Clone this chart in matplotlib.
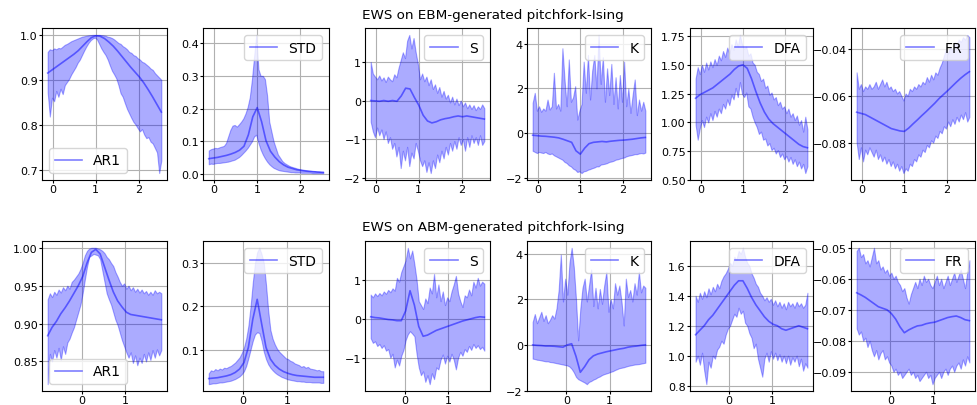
import numpy as np
import matplotlib
matplotlib.use("Agg")
import matplotlib.pyplot as plt
from matplotlib.ticker import MultipleLocator

labels = ["AR1", "STD", "S", "K", "DFA", "FR"]
row_titles = ["EWS on EBM-generated pitchfork-Ising", "EWS on ABM-generated pitchfork-Ising"]

# x grids (parameter axis)
ebm_x_mean = np.linspace(-0.12, 2.53, 27)
ebm_x_band = np.linspace(-0.12, 2.53, 54)
abm_x_mean = np.linspace(-0.78, 1.83, 27)
abm_x_band = np.linspace(-0.78, 1.83, 53)

# ---------------- EBM row ----------------
ebm_ar1_mean = [0.915, 0.922, 0.929, 0.936, 0.943, 0.950, 0.957, 0.965, 0.975, 0.985, 0.994, 0.998, 0.997, 0.992,
                0.984, 0.975, 0.964, 0.952, 0.940, 0.928, 0.917, 0.906, 0.893, 0.878, 0.862, 0.845, 0.828]
ebm_ar1_upper = [0.962, 0.968, 0.966, 0.970, 0.968, 0.971, 0.970, 0.974, 0.978, 0.980,
                 0.983, 0.986, 0.988, 0.990, 0.992, 0.994, 0.996, 0.997, 0.998, 0.999,
                 0.9995, 1.0, 1.0, 1.0, 1.0, 0.9995, 0.999, 0.998, 0.996, 0.995,
                 0.993, 0.990, 0.986, 0.982, 0.980, 0.975, 0.972, 0.968, 0.962, 0.960,
                 0.955, 0.953, 0.948, 0.945, 0.940, 0.938, 0.934, 0.930, 0.925, 0.922,
                 0.915, 0.910, 0.905, 0.900]
ebm_ar1_lower = [0.872, 0.818, 0.860, 0.852, 0.875, 0.862, 0.880, 0.868, 0.888, 0.895,
                 0.902, 0.912, 0.920, 0.928, 0.938, 0.945, 0.955, 0.965, 0.974, 0.982,
                 0.988, 0.992, 0.994, 0.990, 0.980, 0.970, 0.962, 0.955, 0.945, 0.932,
                 0.920, 0.912, 0.903, 0.888, 0.870, 0.862, 0.848, 0.835, 0.825, 0.815,
                 0.806, 0.800, 0.792, 0.785, 0.790, 0.778, 0.770, 0.772, 0.762, 0.758,
                 0.748, 0.738, 0.692, 0.720]

ebm_std_mean = [0.047, 0.049, 0.051, 0.054, 0.057, 0.061, 0.066, 0.073, 0.085, 0.120, 0.175, 0.203, 0.160, 0.102,
                0.070, 0.052, 0.038, 0.028, 0.021, 0.017, 0.013, 0.011, 0.009, 0.008, 0.007, 0.006, 0.005]
ebm_std_upper = [0.072, 0.076, 0.078, 0.080, 0.079, 0.082, 0.084, 0.086, 0.095, 0.115,
                 0.135, 0.148, 0.150, 0.145, 0.152, 0.160, 0.170, 0.185, 0.205, 0.235,
                 0.290, 0.360, 0.425, 0.320, 0.300, 0.300, 0.290, 0.240, 0.160, 0.130,
                 0.100, 0.080, 0.060, 0.050, 0.040, 0.034, 0.030, 0.026, 0.023, 0.021,
                 0.019, 0.017, 0.015, 0.014, 0.013, 0.012, 0.011, 0.010, 0.009, 0.009,
                 0.008, 0.008, 0.007, 0.007]
ebm_std_lower = [0.030, 0.032, 0.031, 0.033, 0.034, 0.034, 0.035, 0.036, 0.037, 0.038,
                 0.040, 0.042, 0.044, 0.048, 0.052, 0.058, 0.065, 0.072, 0.080, 0.090,
                 0.100, 0.115, 0.120, 0.095, 0.075, 0.060, 0.048, 0.038, 0.030, 0.024,
                 0.019, 0.016, 0.013, 0.011, 0.010, 0.009, 0.008, 0.007, 0.006, 0.006,
                 0.005, 0.005, 0.005, 0.004, 0.004, 0.004, 0.004, 0.004, 0.003, 0.003,
                 0.003, 0.003, 0.003, 0.003]

ebm_s_mean = [0.0, -0.01, -0.02, 0.0, -0.02, 0.0, -0.02, 0.12, 0.32, 0.30, 0.08, -0.12, -0.38, -0.53,
              -0.58, -0.55, -0.50, -0.47, -0.45, -0.42, -0.40, -0.42, -0.40, -0.42, -0.44, -0.46, -0.48]
ebm_s_upper = [1.00, 0.70, 0.62, 0.55, 0.65, 0.52, 0.60, 0.48, 0.62, 0.55,
               0.50, 0.68, 0.60, 0.85, 1.05, 1.25, 1.10, 1.55, 1.70, 1.35,
               1.62, 1.25, 0.95, 0.55, 0.70, 0.50, 0.62, 0.40, 0.55, 0.30,
               0.42, 0.20, 0.35, 0.10, 0.25, 0.05, 0.15, -0.05, 0.10, -0.10,
               0.05, -0.12, 0.00, -0.15, -0.05, -0.20, -0.10, -0.22, -0.12, -0.25,
               -0.15, -0.22, -0.10, -0.20]
ebm_s_lower = [-0.55, -0.80, -0.95, -0.70, -0.90, -0.75, -1.00, -0.80, -1.10, -0.95,
               -1.25, -1.10, -1.45, -1.20, -1.75, -1.30, -1.55, -1.20, -1.70, -1.35,
               -1.50, -1.10, -1.30, -1.55, -1.70, -1.55, -1.85, -1.60, -1.88, -1.55,
               -1.75, -1.40, -1.60, -1.30, -1.50, -1.20, -1.40, -1.10, -1.30, -1.05,
               -1.25, -0.95, -1.15, -1.00, -1.30, -0.95, -1.20, -0.90, -1.10, -0.95,
               -1.15, -0.90, -1.15, -1.05]

ebm_k_mean = [-0.10, -0.12, -0.14, -0.15, -0.17, -0.19, -0.22, -0.28, -0.35, -0.42, -0.80, -0.95, -0.68, -0.48,
              -0.42, -0.40, -0.38, -0.40, -0.37, -0.35, -0.33, -0.32, -0.30, -0.28, -0.25, -0.22, -0.20]
ebm_k_upper = [1.35, 1.80, 1.00, 1.20, 0.95, 1.10, 1.00, 1.50, 1.05, 1.20,
               2.70, 1.10, 1.30, 1.00, 3.80, 2.40, 1.20, 3.30, 1.40, 1.60,
               2.10, 0.60, 1.00, 1.30, 3.20, 1.80, 3.50, 1.50, 2.80, 3.50,
               2.00, 4.40, 2.20, 3.40, 1.40, 2.90, 1.70, 3.10, 1.30, 2.50,
               1.10, 2.60, 1.40, 3.20, 1.20, 2.00, 0.90, 1.70, 2.40, 0.80,
               1.50, 1.00, 1.40, 1.00]
ebm_k_lower = [-0.80, -0.85, -0.90, -0.85, -0.88, -0.90, -0.85, -0.92, -0.95, -0.92,
               -1.00, -1.05, -1.10, -1.15, -1.20, -1.30, -1.35, -1.45, -1.50, -1.60,
               -1.65, -1.75, -1.72, -1.80, -1.72, -1.70, -1.65, -1.62, -1.58, -1.55,
               -1.50, -1.50, -1.42, -1.40, -1.38, -1.35, -1.30, -1.28, -1.25, -1.20,
               -1.18, -1.15, -1.12, -1.10, -1.05, -1.02, -1.00, -0.98, -0.95, -0.95,
               -0.92, -0.90, -0.92, -0.88]

ebm_dfa_mean = [1.21, 1.24, 1.26, 1.28, 1.30, 1.33, 1.36, 1.39, 1.42, 1.46, 1.49, 1.50, 1.47, 1.38,
                1.27, 1.17, 1.09, 1.03, 0.99, 0.96, 0.93, 0.90, 0.87, 0.84, 0.81, 0.79, 0.78]
ebm_dfa_upper = [1.38, 1.48, 1.42, 1.50, 1.44, 1.52, 1.46, 1.53, 1.48, 1.55,
                 1.50, 1.58, 1.54, 1.62, 1.57, 1.65, 1.60, 1.68, 1.63, 1.72,
                 1.66, 1.76, 1.68, 1.64, 1.66, 1.58, 1.60, 1.52, 1.50, 1.44,
                 1.42, 1.36, 1.38, 1.30, 1.32, 1.24, 1.26, 1.20, 1.22, 1.15,
                 1.18, 1.12, 1.14, 1.08, 1.12, 1.05, 1.08, 1.02, 1.06, 0.98,
                 1.02, 0.92, 1.05, 0.94]
ebm_dfa_lower = [0.98, 0.85, 0.95, 1.02, 0.96, 1.05, 1.00, 1.08, 1.02, 1.10,
                 1.05, 1.12, 1.08, 1.16, 1.12, 1.20, 1.15, 1.24, 1.20, 1.30,
                 1.22, 1.35, 1.25, 1.22, 1.26, 1.14, 1.12, 1.05, 1.00, 0.96,
                 0.90, 0.92, 0.85, 0.86, 0.80, 0.82, 0.76, 0.78, 0.73, 0.76,
                 0.70, 0.73, 0.68, 0.71, 0.66, 0.70, 0.64, 0.68, 0.62, 0.66,
                 0.60, 0.64, 0.56, 0.62]

ebm_fr_mean = [-0.0670, -0.0675, -0.0680, -0.0690, -0.0700, -0.0710, -0.0720, -0.0730, -0.0740, -0.0745,
               -0.0750, -0.0752, -0.0738, -0.0720, -0.0703, -0.0685, -0.0668, -0.0650, -0.0632, -0.0612,
               -0.0595, -0.0578, -0.0560, -0.0542, -0.0525, -0.0510, -0.0497]
ebm_fr_upper = [-0.050, -0.057, -0.055, -0.058, -0.056, -0.057, -0.055, -0.057, -0.056, -0.054,
                -0.057, -0.055, -0.053, -0.056, -0.054, -0.057, -0.056, -0.058, -0.057, -0.059,
                -0.058, -0.060, -0.062, -0.059, -0.060, -0.057, -0.058, -0.056, -0.057, -0.055,
                -0.056, -0.054, -0.055, -0.052, -0.054, -0.051, -0.053, -0.050, -0.051, -0.048,
                -0.046, -0.043, -0.040, -0.042, -0.039, -0.041, -0.037, -0.038, -0.036, -0.037,
                -0.035, -0.036, -0.034, -0.035]
ebm_fr_lower = [-0.080, -0.087, -0.082, -0.088, -0.083, -0.085, -0.082, -0.084, -0.086, -0.083,
                -0.087, -0.085, -0.088, -0.086, -0.089, -0.087, -0.090, -0.088, -0.091, -0.089,
                -0.092, -0.090, -0.093, -0.091, -0.092, -0.089, -0.090, -0.087, -0.088, -0.085,
                -0.086, -0.083, -0.084, -0.081, -0.082, -0.079, -0.080, -0.077, -0.078, -0.075,
                -0.076, -0.073, -0.074, -0.071, -0.073, -0.070, -0.072, -0.069, -0.071, -0.068,
                -0.070, -0.067, -0.071, -0.069]

# ---------------- ABM row ----------------
abm_ar1_mean = [0.884, 0.895, 0.903, 0.913, 0.921, 0.930, 0.940, 0.950, 0.962, 0.980, 0.994, 0.998, 0.992, 0.975,
                0.958, 0.942, 0.930, 0.922, 0.915, 0.912, 0.911, 0.910, 0.909, 0.908, 0.907, 0.906, 0.905]
abm_ar1_upper = [0.932, 0.940, 0.935, 0.942, 0.938, 0.945, 0.941, 0.948, 0.944, 0.950,
                 0.946, 0.955, 0.958, 0.962, 0.966, 0.972, 0.980, 0.990, 0.996, 0.999,
                 1.000, 1.000, 1.000, 0.999, 0.998, 0.996, 0.993, 0.988, 0.985, 0.980,
                 0.976, 0.968, 0.962, 0.955, 0.950, 0.953, 0.946, 0.950, 0.944, 0.948,
                 0.942, 0.946, 0.941, 0.945, 0.940, 0.943, 0.938, 0.942, 0.938, 0.944,
                 0.940, 0.942, 0.940]
abm_ar1_lower = [0.820, 0.860, 0.850, 0.865, 0.855, 0.868, 0.852, 0.870, 0.860, 0.875,
                 0.880, 0.888, 0.895, 0.905, 0.915, 0.925, 0.940, 0.958, 0.975, 0.988,
                 0.990, 0.992, 0.991, 0.990, 0.985, 0.970, 0.955, 0.940, 0.932, 0.925,
                 0.915, 0.905, 0.898, 0.888, 0.878, 0.870, 0.862, 0.855, 0.862, 0.848,
                 0.858, 0.845, 0.855, 0.848, 0.860, 0.850, 0.862, 0.852, 0.865, 0.855,
                 0.866, 0.858, 0.865]

abm_std_mean = [0.033, 0.034, 0.035, 0.037, 0.039, 0.042, 0.047, 0.055, 0.070, 0.105, 0.170, 0.216, 0.160, 0.105,
                0.078, 0.064, 0.055, 0.049, 0.045, 0.042, 0.040, 0.039, 0.038, 0.037, 0.036, 0.036, 0.036]
abm_std_upper = [0.045, 0.052, 0.050, 0.055, 0.052, 0.056, 0.054, 0.058, 0.057, 0.060,
                 0.062, 0.066, 0.070, 0.076, 0.082, 0.092, 0.105, 0.125, 0.155, 0.200,
                 0.255, 0.300, 0.325, 0.335, 0.320, 0.300, 0.250, 0.190, 0.145, 0.125,
                 0.112, 0.102, 0.095, 0.090, 0.085, 0.080, 0.078, 0.074, 0.072, 0.068,
                 0.066, 0.064, 0.060, 0.062, 0.058, 0.060, 0.056, 0.055, 0.054, 0.052,
                 0.053, 0.050, 0.050]
abm_std_lower = [0.020, 0.021, 0.022, 0.022, 0.023, 0.024, 0.024, 0.025, 0.026, 0.027,
                 0.028, 0.030, 0.032, 0.035, 0.038, 0.043, 0.050, 0.062, 0.080, 0.100,
                 0.120, 0.135, 0.140, 0.138, 0.120, 0.095, 0.078, 0.066, 0.058, 0.052,
                 0.047, 0.043, 0.040, 0.037, 0.035, 0.033, 0.031, 0.030, 0.029, 0.028,
                 0.027, 0.027, 0.026, 0.026, 0.025, 0.025, 0.025, 0.024, 0.024, 0.024,
                 0.024, 0.023, 0.023]

abm_s_mean = [0.05, 0.03, 0.02, 0.0, -0.02, -0.03, -0.05, -0.05, 0.20, 0.72, 0.35, -0.20, -0.45, -0.42,
              -0.36, -0.30, -0.26, -0.22, -0.18, -0.14, -0.10, -0.06, -0.03, 0.0, 0.03, 0.05, 0.04]
abm_s_upper = [0.62, 0.55, 0.65, 0.58, 0.66, 0.60, 0.70, 0.64, 0.74, 0.68,
               0.78, 0.72, 1.05, 0.95, 1.20, 1.35, 1.50, 1.82, 1.55, 1.75,
               1.40, 1.00, 0.45, 0.35, 0.25, 0.52, 0.40, 0.80, 0.65, 1.15,
               0.55, 0.88, 0.45, 0.70, 0.35, 0.55, 0.45, 0.70, 0.88, 1.10,
               0.65, 0.45, 0.30, 0.60, 0.55, 0.75, 0.60, 0.95, 0.80, 1.05,
               0.85, 0.95, 0.90]
abm_s_lower = [-0.50, -0.62, -0.58, -0.70, -0.65, -0.75, -0.68, -0.82, -0.78, -1.00,
               -0.90, -1.25, -1.05, -1.20, -0.95, -0.80, -0.55, -0.40, -0.32, -0.38,
               -0.45, -0.90, -1.25, -1.45, -1.35, -1.62, -1.45, -1.68, -1.40, -1.55,
               -1.25, -1.30, -1.05, -0.92, -1.15, -0.95, -1.10, -0.90, -1.05, -1.30,
               -1.00, -0.85, -0.95, -0.78, -0.85, -0.70, -0.80, -0.65, -0.75, -0.68,
               -0.78, -0.72, -0.82]

abm_k_mean = [0.0, -0.02, -0.03, -0.05, -0.05, -0.06, -0.08, -0.10, 0.0, 0.05, -0.50, -1.20, -0.95, -0.65,
              -0.48, -0.40, -0.35, -0.30, -0.26, -0.22, -0.18, -0.15, -0.10, -0.07, -0.05, -0.02, 0.0]
abm_k_upper = [1.00, 1.35, 0.95, 1.20, 1.45, 1.05, 1.30, 0.95, 1.10, 1.30,
               1.15, 1.60, 2.40, 3.95, 1.90, 2.90, 2.20, 3.60, 4.25, 3.40,
               2.00, 0.20, 1.60, 2.50, 2.90, 1.90, 2.60, 3.30, 1.70, 2.50,
               1.60, 2.45, 1.80, 2.60, 3.20, 1.45, 2.00, 1.60, 2.70, 2.20,
               2.60, 1.90, 0.85, 2.90, 2.10, 2.40, 1.90, 2.70, 2.20, 3.20,
               2.30, 2.60, 2.50]
abm_k_lower = [-0.60, -0.62, -0.65, -0.66, -0.68, -0.70, -0.72, -0.72, -0.75, -0.76,
               -0.78, -0.80, -0.82, -0.84, -0.86, -0.88, -0.90, -0.95, -1.05, -1.20,
               -1.40, -1.50, -1.55, -1.60, -1.65, -1.72, -1.62, -1.58, -1.52, -1.48,
               -1.42, -1.38, -1.32, -1.28, -1.25, -1.22, -1.18, -1.15, -1.10, -1.06,
               -1.02, -1.00, -0.98, -0.95, -0.92, -0.90, -0.88, -0.86, -0.85, -0.84,
               -0.82, -0.80, -0.78]

abm_dfa_mean = [1.14, 1.17, 1.20, 1.24, 1.27, 1.31, 1.35, 1.39, 1.43, 1.47, 1.50, 1.50, 1.45, 1.39,
                1.34, 1.30, 1.26, 1.23, 1.21, 1.20, 1.18, 1.17, 1.18, 1.19, 1.20, 1.19, 1.18]
abm_dfa_upper = [1.40, 1.36, 1.42, 1.38, 1.43, 1.39, 1.45, 1.41, 1.46, 1.43,
                 1.48, 1.45, 1.50, 1.53, 1.55, 1.58, 1.62, 1.60, 1.66, 1.64,
                 1.70, 1.68, 1.72, 1.66, 1.62, 1.60, 1.55, 1.52, 1.48, 1.46,
                 1.42, 1.40, 1.37, 1.39, 1.36, 1.38, 1.34, 1.37, 1.33, 1.36,
                 1.32, 1.35, 1.31, 1.36, 1.33, 1.35, 1.32, 1.36, 1.33, 1.35,
                 1.32, 1.34, 1.42]
abm_dfa_lower = [0.96, 1.00, 0.94, 1.02, 0.90, 0.81, 0.96, 0.92, 1.00, 0.98,
                 1.04, 1.06, 1.10, 1.08, 1.14, 1.18, 1.20, 1.24, 1.28, 1.26,
                 1.32, 1.28, 1.30, 1.22, 1.20, 1.15, 1.12, 1.05, 1.08, 0.98,
                 0.92, 0.86, 0.98, 1.02, 0.96, 1.03, 0.98, 1.02, 0.97, 1.01,
                 0.96, 1.00, 0.95, 1.00, 0.94, 0.99, 0.96, 1.00, 0.93, 0.98,
                 0.90, 0.95, 0.92]

abm_fr_mean = [-0.0645, -0.0652, -0.0660, -0.0670, -0.0680, -0.0690, -0.0695, -0.0700, -0.0712, -0.0730,
               -0.0755, -0.0774, -0.0765, -0.0758, -0.0752, -0.0750, -0.0745, -0.0742, -0.0740, -0.0735,
               -0.0730, -0.0725, -0.0722, -0.0720, -0.0725, -0.0732, -0.0735]
abm_fr_upper = [-0.051, -0.050, -0.053, -0.052, -0.055, -0.054, -0.056, -0.053, -0.050, -0.055,
                -0.054, -0.057, -0.056, -0.058, -0.057, -0.059, -0.058, -0.060, -0.059, -0.061,
                -0.062, -0.064, -0.063, -0.066, -0.068, -0.065, -0.063, -0.061, -0.063, -0.060,
                -0.062, -0.059, -0.061, -0.060, -0.062, -0.063, -0.061, -0.059, -0.062, -0.060,
                -0.063, -0.061, -0.059, -0.062, -0.060, -0.058, -0.061, -0.059, -0.057, -0.060,
                -0.063, -0.058, -0.054]
abm_fr_lower = [-0.076, -0.078, -0.077, -0.080, -0.079, -0.082, -0.080, -0.083, -0.085, -0.083,
                -0.086, -0.084, -0.083, -0.086, -0.085, -0.087, -0.088, -0.090, -0.089, -0.091,
                -0.090, -0.092, -0.091, -0.090, -0.089, -0.091, -0.090, -0.092, -0.091, -0.093,
                -0.092, -0.091, -0.090, -0.092, -0.091, -0.094, -0.092, -0.091, -0.090, -0.092,
                -0.090, -0.089, -0.091, -0.089, -0.088, -0.090, -0.088, -0.087, -0.089, -0.086,
                -0.088, -0.085, -0.087]

rows = [
    dict(xm=ebm_x_mean, xb=ebm_x_band, title=row_titles[0],
         means=[ebm_ar1_mean, ebm_std_mean, ebm_s_mean, ebm_k_mean, ebm_dfa_mean, ebm_fr_mean],
         uppers=[ebm_ar1_upper, ebm_std_upper, ebm_s_upper, ebm_k_upper, ebm_dfa_upper, ebm_fr_upper],
         lowers=[ebm_ar1_lower, ebm_std_lower, ebm_s_lower, ebm_k_lower, ebm_dfa_lower, ebm_fr_lower],
         ysteps=[0.1, 0.1, 1, 2, 0.25, 0.02]),
    dict(xm=abm_x_mean, xb=abm_x_band, title=row_titles[1],
         means=[abm_ar1_mean, abm_std_mean, abm_s_mean, abm_k_mean, abm_dfa_mean, abm_fr_mean],
         uppers=[abm_ar1_upper, abm_std_upper, abm_s_upper, abm_k_upper, abm_dfa_upper, abm_fr_upper],
         lowers=[abm_ar1_lower, abm_std_lower, abm_s_lower, abm_k_lower, abm_dfa_lower, abm_fr_lower],
         ysteps=[0.05, 0.1, 1, 2, 0.2, 0.01]),
]

W, H = 977, 406
fig = plt.figure(figsize=(W / 100, H / 100), dpi=100)

col_px = [(42, 167), (203, 329), (365, 490), (527, 651), (690, 813), (851, 975)]
row_px = [(29, 181), (242, 392)]
title_y_px = [16, 228]
legend_locs = ["lower left"] + ["upper right"] * 5

for r, row in enumerate(rows):
    top, bot = row_px[r]
    for c in range(6):
        l, rr = col_px[c]
        ax = fig.add_axes([l / W, 1 - bot / H, (rr - l) / W, (bot - top) / H])
        ax.fill_between(row["xb"], row["lowers"][c], row["uppers"][c], color="blue", alpha=0.33, linewidth=0.8)
        ax.plot(row["xm"], row["means"][c], color="blue", alpha=0.5, linewidth=1.2, label=labels[c])
        ax.grid(True, color="#b0b0b0", linewidth=0.8)
        ax.set_axisbelow(True)
        ax.xaxis.set_major_locator(MultipleLocator(1))
        ax.yaxis.set_major_locator(MultipleLocator(row["ysteps"][c]))
        ax.tick_params(labelsize=8, length=2, pad=1, width=0.8)
        ax.legend(loc=legend_locs[c], fontsize=10, handlelength=2.0)
    fig.text(493 / W, 1 - title_y_px[r] / H, row["title"], ha="center", va="center", fontsize=9.7)

fig.savefig("out.png", dpi=100)
